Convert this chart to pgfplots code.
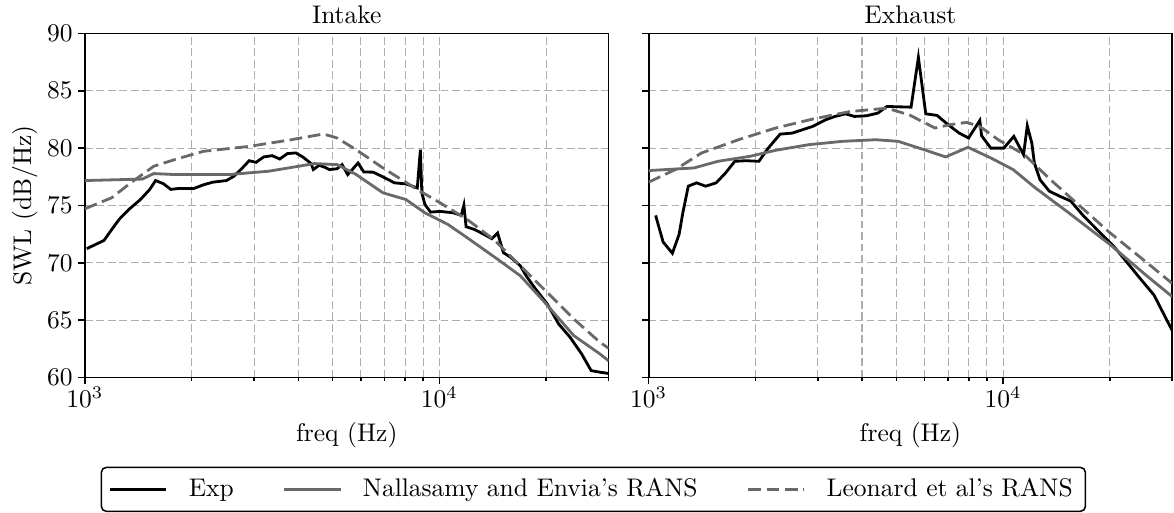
\documentclass[border=0pt]{standalone}
\usepackage{pgfplots}
\pgfplotsset{compat=1.18}
\definecolor{dg}{RGB}{105,105,105}
\tikzset{
 expline/.style={black, line width=1.1pt},
 nalline/.style={dg, line width=1.1pt},
 leoline/.style={dg, line width=1.1pt, dash pattern=on 5pt off 2.2pt},
}
\pgfplotsset{
 every axis title/.style={at={(0.5,1)}, anchor=base, yshift=3.7pt},
 every axis/.append style={
  scale only axis, width=205.3pt, height=134.9pt,
  xmode=log, xmin=1000, xmax=30000, ymin=60, ymax=90,
  xtick={1000,10000},
  minor xtick={2000,3000,4000,5000,6000,7000,8000,9000,20000,30000},
  ytick={60,65,...,90},
  grid=both,
  major grid style={dash pattern=on 3pt off 1.5pt, color=black!32, line width=0.45pt},
  minor grid style={dash pattern=on 3pt off 1.5pt, color=black!32, line width=0.45pt},
  tick align=outside, xtick pos=lower, ytick pos=left,
  major tick length=2.6pt, minor tick length=1.5pt,
  tick style={black, line width=0.6pt},
  axis line style={line width=0.7pt},
  xticklabel style={inner sep=1pt},
  yticklabel style={inner sep=2pt},
  xlabel={freq (Hz)},
  xlabel style={yshift=-1pt},
 },
}

\begin{document}
\begin{tikzpicture}
\begin{axis}[name=L, title={Intake}, ylabel={SWL (dB/Hz)},
  ylabel style={at={(axis description cs:-0.0735,0.5)}, anchor=south},
  legend columns=3,
  legend image code/.code={\draw[#1] (0pt,0pt) -- (22pt,0pt);},
  legend style={at={(0.971,-0.259)}, anchor=north, draw=black, line width=0.6pt,
    rounded corners=2pt, inner xsep=3pt, inner ysep=2.3pt,
    /tikz/every odd column/.append style={column sep=6.2pt},
    /tikz/every even column/.append style={column sep=17.3pt}},
]
\addplot[expline] coordinates {(1012,71.23)(1132,71.95)(1190,72.9)(1250,73.8)(1330,74.65)(1432,75.5)(1524,76.4)(1582,77.17)(1664,76.9)(1747,76.4)(1836,76.48)(2029,76.48)(2159,76.8)(2296,77.03)(2506,77.17)(2633,77.55)(2780,78.27)(2906,78.9)(3039,78.76)(3194,79.23)(3373,79.34)(3545,79.05)(3726,79.52)(3936,79.58)(4115,79.23)(4346,78.65)(4408,78.13)(4578,78.5)(4751,78.33)(4895,78.13)(5145,78.2)(5313,78.56)(5512,77.69)(5677,78.13)(5893,78.7)(6119,77.92)(6512,77.9)(6929,77.49)(7468,76.97)(8040,76.88)(8660,76.53)(8836,79.86)(8920,76.1)(9098,75.09)(9440,74.42)(10040,74.48)(10960,74.36)(11520,74.13)(11720,75.03)(11890,73.15)(12560,72.9)(13360,72.48)(14050,72.1)(14590,72.6)(15150,70.89)(15920,70.45)(16920,69.73)(17570,68.86)(18690,67.7)(20150,66.4)(21700,64.66)(23370,63.5)(25190,62.05)(26790,60.6)(28370,60.46)(30000,60.35)};
\addlegendentry{Exp}
\addplot[nalline] coordinates {(1000,77.17)(1452,77.3)(1564,77.78)(1770,77.7)(2566,77.7)(3289,77.98)(4013,78.42)(4436,78.65)(5145,78.56)(5821,77.7)(6929,76.1)(8040,75.52)(9098,74.36)(10560,73.35)(11970,72.19)(14590,70.31)(16920,68.86)(19630,66.69)(23930,63.65)(28370,62.05)(30000,61.45)};
\addlegendentry{Nallasamy and Envia's RANS}
\addplot[leoline] coordinates {(1000,74.71)(1190,75.67)(1346,76.97)(1564,78.42)(1814,79.05)(2159,79.72)(2906,80.15)(3819,80.73)(4707,81.23)(5145,80.88)(5821,79.86)(6929,78.27)(8660,76.39)(10040,75.23)(11970,73.78)(14220,72.04)(16920,69.73)(20150,67.41)(23930,65.1)(28370,63.07)(30000,62.55)};
\addlegendentry{Leonard et al's RANS}
\end{axis}

\begin{axis}[name=R, at={(221pt,0pt)}, title={Exhaust}, yticklabels={}]
\addplot[expline] coordinates {(1047,74.13)(1067,73.2)(1099,71.81)(1167,70.83)(1219,72.48)(1249,74.36)(1294,76.68)(1365,76.97)(1449,76.68)(1551,76.97)(1649,77.84)(1751,78.85)(1881,78.9)(2047,78.85)(2175,80.0)(2350,81.22)(2543,81.31)(2903,81.89)(3157,82.47)(3356,82.76)(3592,82.99)(3805,82.76)(4120,82.82)(4430,83.05)(4703,83.63)(5500,83.57)(5768,87.91)(6051,82.99)(6511,82.85)(7000,82.04)(7518,81.31)(7992,80.88)(8595,82.41)(8697,81.08)(9235,80.0)(10044,80.0)(10720,81.02)(11420,79.43)(11700,81.95)(12050,80.44)(12250,78.71)(12700,77.26)(13490,76.25)(14430,75.81)(15520,75.38)(16880,74.07)(18580,72.77)(20470,71.47)(21990,70.31)(24220,68.72)(26660,67.18)(30000,64.08)};
\addplot[nalline] coordinates {(1000,78.04)(1342,78.27)(1570,78.85)(1929,79.28)(2282,79.81)(2833,80.3)(3524,80.59)(4376,80.73)(5058,80.59)(5987,79.86)(6883,79.23)(7962,80.07)(9235,79.14)(10670,78.13)(12330,76.53)(15310,74.36)(20010,71.6)(25430,68.86)(30000,67.05)};
\addplot[leoline] coordinates {(1000,77.03)(1190,78.13)(1409,79.57)(1792,80.73)(2282,81.75)(2903,82.53)(3700,83.19)(4703,83.48)(5433,82.9)(6428,81.75)(7080,82.04)(7889,82.24)(8595,81.89)(9687,80.73)(11480,79.43)(13590,77.26)(15700,75.52)(20010,72.62)(25430,70.02)(30000,68.2)};
\end{axis}

\pgfresetboundingbox
\path (L.south west) ++(-33.3pt,-52.9pt) coordinate (bbA);
\path (R.north east) ++(0.7pt,13.1pt) coordinate (bbB);
\useasboundingbox (bbA) rectangle (bbB);
\end{tikzpicture}
\end{document}
